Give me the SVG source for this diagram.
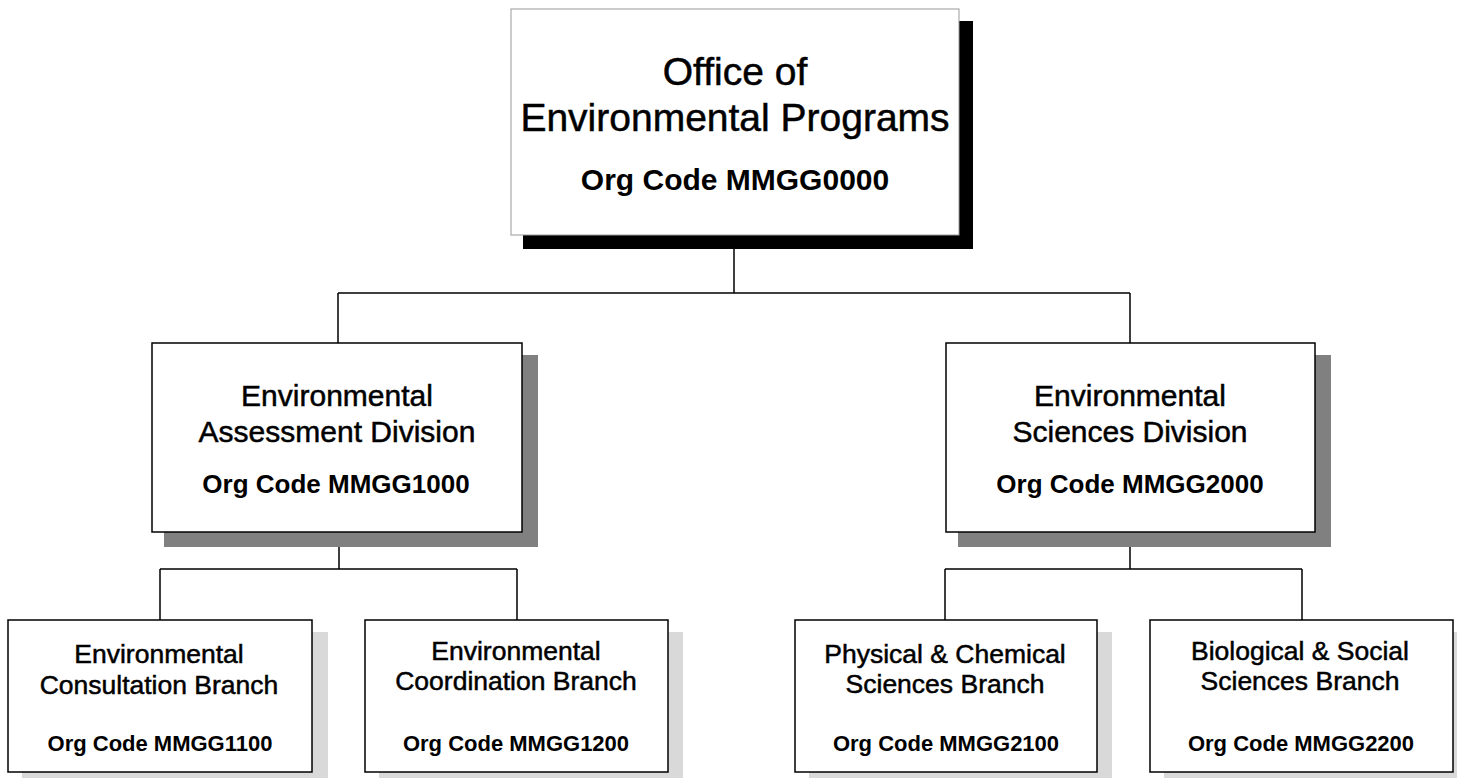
<svg xmlns="http://www.w3.org/2000/svg" width="1457" height="779" viewBox="0 0 1457 779">
<style>
text{font-family:"Liberation Sans",Arial,sans-serif;fill:#000;text-anchor:middle;stroke:#000;stroke-width:0.5}
.box{fill:#fff;stroke:#000;stroke-width:1.5}
.topbox{fill:#fff;stroke:#999;stroke-width:1}
.sh1{fill:#000}
.sh2{fill:#808080}
.sh3{fill:#d9d9d9}
.code{font-weight:bold;stroke-width:0}
.conn{stroke:#000;stroke-width:1.5;fill:none}
</style>
<rect width="1457" height="779" fill="#fff"/>
<g id="connectors">
<path class="conn" d="M734,249V293M338,293H1130M338,293V343M1130,293V343"/>
<path class="conn" d="M339,532V569M160,569H517M160,569V620M517,569V620"/>
<path class="conn" d="M1130,532V569M945,569H1302M945,569V620M1302,569V620"/>
</g>
<g id="office">
<rect class="sh1" x="523" y="21" width="450" height="228"/>
<rect class="topbox" x="511" y="9" width="448" height="226"/>
<text x="735" y="85" font-size="39">Office of</text>
<text x="735" y="131" font-size="39">Environmental Programs</text>
<text class="code" x="735" y="190" font-size="30">Org Code MMGG0000</text>
</g>
<g id="div-assessment">
<rect class="sh2" x="164" y="355" width="374" height="192"/>
<rect class="box" x="152" y="343" width="370" height="189"/>
<text x="337" y="406" font-size="30">Environmental</text>
<text x="337" y="442" font-size="30">Assessment Division</text>
<text class="code" x="336" y="493" font-size="26">Org Code MMGG1000</text>
</g>
<g id="div-sciences">
<rect class="sh2" x="958" y="355" width="373" height="192"/>
<rect class="box" x="946" y="343" width="369" height="189"/>
<text x="1130" y="406" font-size="30">Environmental</text>
<text x="1130" y="442" font-size="30">Sciences Division</text>
<text class="code" x="1130" y="493" font-size="26">Org Code MMGG2000</text>
</g>
<g id="branch-consultation">
<rect class="sh3" x="22" y="632" width="306" height="146"/>
<rect class="box" x="8" y="620" width="304" height="152"/>
<text x="159" y="663" font-size="26.5">Environmental</text>
<text x="159" y="694" font-size="26.5">Consultation Branch</text>
<text class="code" x="160" y="751" font-size="22">Org Code MMGG1100</text>
</g>
<g id="branch-coordination">
<rect class="sh3" x="379" y="632" width="304" height="146"/>
<rect class="box" x="365" y="620" width="303" height="152"/>
<text x="516" y="660" font-size="26.5">Environmental</text>
<text x="516" y="690" font-size="26.5">Coordination Branch</text>
<text class="code" x="516" y="751" font-size="22">Org Code MMGG1200</text>
</g>
<g id="branch-physical">
<rect class="sh3" x="809" y="632" width="303" height="146"/>
<rect class="box" x="795" y="620" width="302" height="152"/>
<text x="945" y="663" font-size="26.5">Physical &amp; Chemical</text>
<text x="945" y="693" font-size="26.5">Sciences Branch</text>
<text class="code" x="946" y="751" font-size="22">Org Code MMGG2100</text>
</g>
<g id="branch-biological">
<rect class="sh3" x="1164" y="632" width="303" height="146"/>
<rect class="box" x="1150" y="620" width="303" height="152"/>
<text x="1300" y="660" font-size="26.5">Biological &amp; Social</text>
<text x="1300" y="690" font-size="26.5">Sciences Branch</text>
<text class="code" x="1301" y="751" font-size="22">Org Code MMGG2200</text>
</g>
</svg>
